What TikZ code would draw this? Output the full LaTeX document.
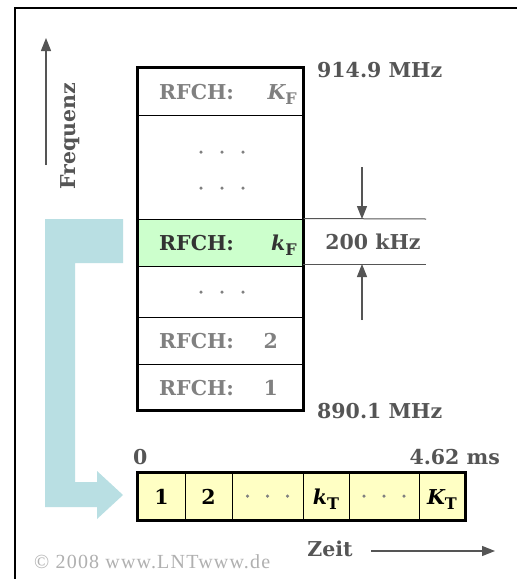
\documentclass[tikz,border=0pt]{standalone}
\usepackage{fontspec}
\setmainfont{DejaVu Serif}
\newfontfamily\copyfont[LetterSpace=6]{Liberation Serif}
\usetikzlibrary{arrows.meta}
\definecolor{lblue}{HTML}{B9DFE3}
\definecolor{lgreen}{HTML}{CCFFCC}
\definecolor{lyellow}{HTML}{FFFFC4}
\definecolor{tgray}{HTML}{808080}
\definecolor{dgray}{HTML}{555555}
\definecolor{cgray}{HTML}{B0B0B0}
\newcommand{\idx}[2]{{\itshape #1}\raisebox{-0.5ex}{\fontsize{16}{16}\selectfont #2}}
\begin{document}
\begin{tikzpicture}[x=1pt,y=-1pt,
  lbl/.style={font=\fontsize{20.5}{22}\selectfont\bfseries, inner sep=0pt},
  row/.style={draw=black, line width=1pt, inner sep=0pt, minimum width=165pt},
  tcell/.style={draw=black, line width=1pt, fill=lyellow, inner sep=0pt, minimum height=47pt},
  dim/.style={draw=dgray, line width=1pt},
  arr/.style={-{Triangle[width=10pt,length=13pt]}, draw=dgray, fill=dgray, line width=1.2pt},
  dotc/.style={circle, fill=tgray, inner sep=0pt, minimum size=3.5pt}
]
\useasboundingbox (0,0) rectangle (517,579);
\fill[white] (0,0) rectangle (517,579);
\draw[line width=1.6pt] (15,579) -- (15,8) -- (517,8);

% frequency axis
\coordinate (fs) at (46,165);
\coordinate (fe) at (46,38);
\draw[arr] (fs) -- (fe);
\node[lbl, text=dgray, rotate=90] (freq) at (70,136) {Frequenz};

% light blue L arrow
\fill[lblue] (45,219) -- (123,219) -- (123,263) -- (75,263) -- (75,482) -- (97,482)
  -- (97,471) -- (123,495) -- (97,519) -- (97,507) -- (45,507) -- cycle;

% frequency table
\node[row, minimum height=47pt] (rK) at (220.5,91.5) {};
\node[row, minimum height=104pt] (rd1) at (220.5,167) {};
\node[row, minimum height=47pt, fill=lgreen] (rk) at (220.5,242.5) {};
\node[row, minimum height=51pt] (rd2) at (220.5,291.5) {};
\node[row, minimum height=47pt] (r2) at (220.5,340.5) {};
\node[row, minimum height=46pt] (r1) at (220.5,387) {};
\draw[line width=2.6pt] (rK.north west) rectangle (r1.south east);

\node[lbl, text=tgray, anchor=base west] (lK) at (159,99) {RFCH:};
\node[lbl, text=tgray, anchor=base east] (iK) at (297,99) {\idx{K}{F}};
\node[lbl, text=black!80, anchor=base west] (lk) at (159,250) {RFCH:};
\node[lbl, text=black!80, anchor=base east] (ik) at (297,250) {\idx{k}{F}};
\node[lbl, text=tgray, anchor=base west] (l2) at (159,348) {RFCH:};
\node[lbl, text=tgray, anchor=base east] (i2) at (278,348) {2};
\node[lbl, text=tgray, anchor=base west] (l1) at (159,395) {RFCH:};
\node[lbl, text=tgray, anchor=base east] (i1) at (278,395) {1};

\foreach \yy/\nm in {152/a,188/b,292/c}{
  \node[dotc] (d\nm1) at (201,\yy) {};
  \node[dotc] (d\nm2) at (222,\yy) {};
  \node[dotc] (d\nm3) at (243,\yy) {};
}

\node[lbl, text=dgray, anchor=base west] (fhi) at (317,77) {914.9 MHz};
\node[lbl, text=dgray, anchor=base west] (flo) at (317,418) {890.1 MHz};

% 200 kHz dimension
\coordinate (h1) at (426,219);
\coordinate (h2) at (426,264);
\draw[dim] (rk.north east) -- (h1);
\draw[dim] (303,264) -- (h2);
\coordinate (a1s) at (362,167);
\coordinate (a1e) at (362,219);
\coordinate (a2s) at (362,320);
\coordinate (a2e) at (362,264);
\draw[arr] (a1s) -- (a1e);
\draw[arr] (a2s) -- (a2e);
\node[lbl, text=dgray] (bw) at (373,242) {200 kHz};

% time frame
\node[tcell, minimum width=47pt] (c1) at (161.5,496.5) {};
\node[tcell, minimum width=47pt] (c2) at (208.5,496.5) {};
\node[tcell, minimum width=71pt] (c3) at (267.5,496.5) {};
\node[tcell, minimum width=46pt] (c4) at (326,496.5) {};
\node[tcell, minimum width=70pt] (c5) at (384,496.5) {};
\node[tcell, minimum width=46pt] (c6) at (442,496.5) {};
\draw[line width=2.6pt] (c1.north west) rectangle (c6.south east);
\node[lbl, anchor=base] (t1) at (c1.center) [yshift=-7.5pt] {1};
\node[lbl, anchor=base] (t2) at (c2.center) [yshift=-7.5pt] {2};
\node[lbl, anchor=base] (t4) at (c4.center) [yshift=-7.5pt] {\idx{k}{T}};
\node[lbl, anchor=base] (t6) at (c6.center) [yshift=-7.5pt] {\idx{K}{T}};
\foreach \xx/\nm in {267.5/e,384/f}{
  \node[dotc] (\nm1) at (\xx-20,496) {};
  \node[dotc] (\nm2) at (\xx,496) {};
  \node[dotc] (\nm3) at (\xx+20,496) {};
}
\node[lbl, text=dgray, anchor=base west] (t0) at (133,464) {0};
\node[lbl, text=dgray, anchor=base east] (tend) at (500,464) {4.62 ms};

% time axis
\node[lbl, text=dgray] (zeit) at (330,549) {Zeit};
\coordinate (zs) at (371,551);
\coordinate (ze) at (495,551);
\draw[arr] (zs) -- (ze);

\node[font=\copyfont\fontsize{20}{21}\selectfont, text=cgray, anchor=base west, inner sep=0pt] (copy) at (34,568) {© 2008 www.LNTwww.de};
\end{tikzpicture}
\end{document}
